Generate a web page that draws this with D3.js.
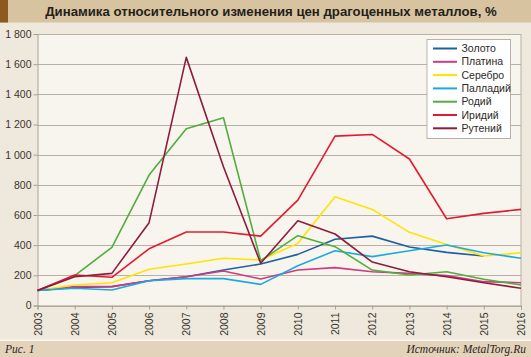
<!DOCTYPE html>
<html><head><meta charset="utf-8">
<script src="https://cdn.jsdelivr.net/npm/d3@7"></script>
<style>
html,body{margin:0;padding:0;background:#efe8dc;}
svg{display:block;}
</style></head>
<body>
<svg id="c" width="531" height="357"></svg>
<script>
const years = [2003,2004,2005,2006,2007,2008,2009,2010,2011,2012,2013,2014,2015,2016];
const yTicks = [0,200,400,600,800,1000,1200,1400,1600,1800];
const seriesNames = ["Золото","Платина","Серебро","Палладий","Родий","Иридий","Рутений"];
const seriesColors = ["#1f5fa3","#cf3a80","#ffe400","#1ca9e2","#4fae3e","#e21b30","#8e1c3c"];
const gold      = [100,120,125,164,191,235,275,339,439,460,388,352,328,null];
const platinum  = [100,125,125,164,191,229,176,235,251,224,213,198,158,151];
const silver    = [100,136,151,240,275,313,302,412,721,637,485,405,328,350];
const palladium = [100,114,103,164,178,178,140,264,363,324,363,401,350,313];
const rhodium   = [100,198,386,865,1172,1245,297,463,390,235,202,224,174,136];
const iridium   = [100,202,187,376,487,487,460,699,1123,1134,971,575,611,637];
const ruthenium = [100,191,213,549,1645,920,280,562,474,288,224,191,151,114];
const allSeries = [gold,platinum,silver,palladium,rhodium,iridium,ruthenium];

const svg = d3.select("#c");
// title bar
svg.append("rect").attr("x",0).attr("y",0).attr("width",531).attr("height",22.5).attr("fill","#d8c3a1");
svg.append("rect").attr("x",0).attr("y",0).attr("width",8).attr("height",22.5).attr("fill","#8c5a1f");
svg.append("text").attr("x",271).attr("y",16).attr("text-anchor","middle")
  .attr("font-family","Liberation Sans, Arial, sans-serif").attr("font-weight","bold").attr("font-size",13.2)
  .attr("fill","#231f1a").text("Динамика относительного изменения цен драгоценных металлов, %");
// bottom bar
svg.append("rect").attr("x",0).attr("y",339.5).attr("width",531).attr("height",1.5).attr("fill","#fbf8f3");
svg.append("rect").attr("x",0).attr("y",341).attr("width",531).attr("height",16).attr("fill","#e3d3bb");
svg.append("text").attr("x",5).attr("y",353).attr("font-family","Liberation Serif, serif").attr("font-style","italic")
  .attr("font-size",11.5).attr("fill","#2a241d").text("Рис. 1");
svg.append("text").attr("x",526).attr("y",353).attr("text-anchor","end").attr("font-family","Liberation Serif, serif").attr("font-style","italic")
  .attr("font-size",11.5).attr("fill","#2a241d").text("Источник: MetalTorg.Ru");

const x = d3.scalePoint().domain(years).range([37.5,521]);
const y = d3.scaleLinear().domain([0,1800]).range([305.5,34]);

// plot background
svg.append("rect").attr("x",37.5).attr("y",34).attr("width",521-37.5).attr("height",305.5-34).attr("fill","#f8f4ee");

// grid
svg.append("g").selectAll("line").data(yTicks).join("line")
  .attr("x1",37.5).attr("x2",521).attr("y1",d=>Math.round(y(d))+0.5).attr("y2",d=>Math.round(y(d))+0.5)
  .attr("stroke","#b9b1a6").attr("stroke-width",1);
svg.append("line").attr("x1",521).attr("x2",521).attr("y1",34).attr("y2",305.5).attr("stroke","#b9b1a6");

// y axis
const yAxis = svg.append("g").attr("transform","translate(37.5,0)")
  .call(d3.axisLeft(y).tickValues(yTicks).tickSize(4).tickPadding(2).tickFormat(d=>d3.format(",")(d).replace(/,/g," ")));
yAxis.select(".domain").attr("stroke","#a8a095");
yAxis.selectAll(".tick line").attr("stroke","#a8a095");
yAxis.selectAll("text").attr("font-family","Liberation Sans, Arial, sans-serif").attr("font-size",10.5).attr("fill","#3a352f");

// x axis
const xAxis = svg.append("g").attr("transform","translate(0,305.5)")
  .call(d3.axisBottom(x).tickSize(4).tickPadding(2));
xAxis.select(".domain").attr("stroke","#a8a095");
xAxis.selectAll(".tick line").attr("stroke","#a8a095");
xAxis.selectAll("text").attr("font-family","Liberation Sans, Arial, sans-serif").attr("font-size",10.5).attr("fill","#3a352f")
  .attr("transform","rotate(-90)").attr("text-anchor","end").attr("x",-7).attr("y",0).attr("dy","0.35em");

// lines
const line = d3.line().defined(d=>d.v!=null).x(d=>x(d.yr)).y(d=>y(d.v));
allSeries.forEach((s,i)=>{
  svg.append("path").datum(years.map((yr,j)=>({yr,v:s[j]})))
    .attr("d",line).attr("fill","none").attr("stroke",seriesColors[i]).attr("stroke-width",1.6)
    .attr("stroke-linejoin","round");
});

// legend
const lg = svg.append("g");
lg.append("rect").attr("x",427).attr("y",39.5).attr("width",83.5).attr("height",99).attr("fill","#ffffff").attr("stroke","#b9b1a6");
seriesNames.forEach((n,i)=>{
  const yy = 48.5 + i*13.3;
  lg.append("line").attr("x1",433).attr("x2",457).attr("y1",yy).attr("y2",yy).attr("stroke",seriesColors[i]).attr("stroke-width",2);
  lg.append("text").attr("x",461.5).attr("y",yy).attr("dy","0.35em").attr("font-family","Liberation Sans, Arial, sans-serif")
    .attr("font-size",10.5).attr("fill","#2e2a25").text(n);
});
</script>
</body></html>
